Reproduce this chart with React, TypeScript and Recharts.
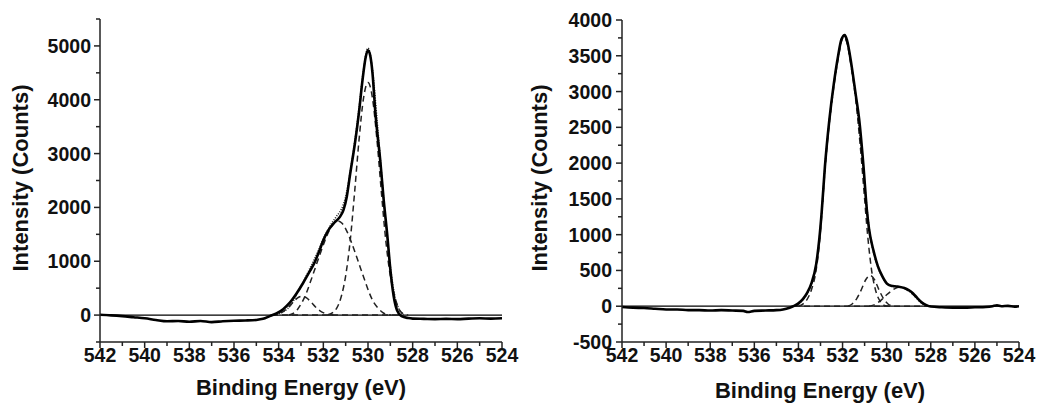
import React from 'react';
import { LineChart, Line, XAxis, YAxis, ReferenceLine } from 'recharts';

type Pt = [number, number];

// binding energy ticks (labels on even values only)
const energyTicks = [542, 541, 540, 539, 538, 537, 536, 535, 534, 533, 532, 531, 530, 529, 528, 527, 526, 525, 524];
const leftIntensityTicks = [-500, 0, 500, 1000, 1500, 2000, 2500, 3000, 3500, 4000, 4500, 5000, 5500];
const rightIntensityTicks = [-500, -250, 0, 250, 500, 750, 1000, 1250, 1500, 1750, 2000, 2250, 2500, 2750, 3000, 3250, 3500, 3750, 4000];

// ---- left panel ----
const leftEnvelope: Pt[] = [
  [542, 5], [541.5, -5], [541, -20], [540.5, -40], [540, -60], [539.5, -90], [539, -115], [538.5, -110],
  [538, -125], [537.5, -110], [537, -130], [536.5, -115], [536, -105], [535.5, -100], [535, -90], [534.7, -70],
  [534.4, -20], [534.1, 30], [533.8, 110], [533.5, 230], [533.2, 400], [532.9, 600], [532.6, 820], [532.4, 970],
  [532.2, 1170], [532.0, 1390], [531.8, 1560], [531.5, 1720], [531.25, 1830], [531.1, 1950], [530.95, 2200],
  [530.8, 2620], [530.6, 3150], [530.4, 3780], [530.25, 4350], [530.1, 4800], [530.0, 4920], [529.9, 4820],
  [529.8, 4500], [529.67, 3760], [529.44, 2820], [529.3, 2150], [529.14, 1500], [529.0, 850], [528.85, 350],
  [528.7, 90], [528.5, -20], [528.2, -55], [528, -65], [527.5, -70], [527, -75], [526.5, -70], [526, -75],
  [525.5, -65], [525, -60], [524.5, -65], [524, -60],
];
const leftFit: Pt[] = [
  [534.2, 0], [534.0, 25], [533.8, 60], [533.6, 120], [533.4, 220], [533.2, 380], [533.0, 540], [532.8, 700],
  [532.6, 870], [532.4, 1040], [532.2, 1220], [532.0, 1420], [531.8, 1580], [531.6, 1720], [531.4, 1840],
  [531.2, 1960], [531.0, 2200], [530.8, 2650], [530.6, 3200], [530.4, 3850], [530.2, 4550], [530.0, 4960],
  [529.8, 4550], [529.6, 3650], [529.4, 2650], [529.2, 1700], [529.0, 900], [528.8, 350], [528.6, 100], [528.4, 10],
];
const leftPeakA: Pt[] = [
  [531.8, 0], [531.6, 40], [531.4, 130], [531.2, 340], [531.0, 730], [530.8, 1370], [530.6, 2280], [530.4, 3260],
  [530.2, 4030], [530.0, 4320], [529.8, 4030], [529.6, 3260], [529.4, 2280], [529.2, 1370], [529.0, 730],
  [528.8, 340], [528.6, 100], [528.4, 20], [528.2, 0],
];
const leftPeakB: Pt[] = [
  [533.55, 0], [533.35, 30], [533.15, 110], [532.95, 240], [532.75, 420], [532.55, 650], [532.35, 890],
  [532.15, 1130], [531.95, 1360], [531.75, 1560], [531.55, 1700], [531.35, 1750], [531.15, 1700], [530.95, 1560],
  [530.75, 1360], [530.55, 1130], [530.35, 890], [530.15, 650], [529.95, 420], [529.75, 240], [529.55, 130],
  [529.35, 50], [529.15, 10], [528.95, 0],
];
const leftPeakC: Pt[] = [
  [534.35, 0], [534.15, 10], [533.95, 35], [533.75, 80], [533.55, 150], [533.35, 240], [533.15, 320],
  [532.95, 350], [532.75, 320], [532.55, 240], [532.35, 150], [532.15, 80], [531.95, 35], [531.75, 10], [531.55, 0],
];
const leftBaseline: Pt[] = [[534.3, 0], [528.5, 0]];

// ---- right panel ----
const rightEnvelope: Pt[] = [
  [542, -10], [541.5, -20], [541, -25], [540.5, -35], [540, -45], [539.5, -45], [539, -55], [538.5, -55],
  [538, -60], [537.5, -55], [537, -60], [536.5, -65], [536.3, -80], [536, -65], [535.5, -60], [535, -55],
  [534.7, -45], [534.4, -20], [534.2, 5], [534.0, 40], [533.8, 100], [533.6, 190], [533.4, 330], [533.2, 580],
  [533.05, 950], [532.95, 1300], [532.8, 1950], [532.6, 2600], [532.4, 3100], [532.2, 3500], [532.05, 3730],
  [531.9, 3790], [531.8, 3720], [531.6, 3380], [531.4, 2950], [531.25, 2620], [531.05, 1950], [530.9, 1350],
  [530.8, 1080], [530.6, 780], [530.4, 560], [530.2, 420], [530.0, 320], [529.8, 285], [529.5, 275],
  [529.2, 255], [529.0, 225], [528.8, 180], [528.6, 110], [528.4, 50], [528.2, 15], [528.0, -5], [527.5, -15],
  [527, -20], [526.5, -20], [526, -15], [525.5, -10], [525.2, 0], [525, 12], [524.8, 0], [524.5, 5],
  [524.2, -5], [524, 0],
];
const rightFit: Pt[] = [
  [534.2, 0], [534.0, 30], [533.8, 90], [533.6, 180], [533.4, 320], [533.2, 570], [533.05, 940], [532.95, 1290],
  [532.8, 1940], [532.6, 2590], [532.4, 3090], [532.2, 3490], [532.05, 3720], [531.95, 3770], [531.8, 3700],
  [531.6, 3360], [531.4, 2930], [531.2, 2350], [531.0, 1700], [530.8, 1100], [530.6, 760], [530.4, 550],
  [530.2, 410], [530.0, 320], [529.8, 280], [529.5, 270], [529.2, 250], [529.0, 215], [528.8, 170],
  [528.6, 100], [528.4, 40], [528.2, 10], [528.0, 0],
];
const rightPeakA: Pt[] = [
  [534.0, 0], [533.8, 30], [533.6, 100], [533.4, 240], [533.2, 500], [533.05, 880], [532.95, 1250],
  [532.8, 1900], [532.6, 2560], [532.4, 3060], [532.2, 3460], [532.05, 3700], [531.95, 3760], [531.8, 3680],
  [531.6, 3330], [531.4, 2880], [531.2, 2250], [531.0, 1500], [530.9, 1120], [530.8, 800], [530.7, 540],
  [530.5, 220], [530.3, 70], [530.1, 10], [529.9, 0],
];
const rightPeakB: Pt[] = [
  [531.75, 0], [531.55, 35], [531.35, 110], [531.15, 230], [530.95, 370], [530.75, 430], [530.55, 370],
  [530.35, 230], [530.15, 110], [529.95, 35], [529.75, 0],
];
const rightPeakC: Pt[] = [
  [530.8, 0], [530.6, 15], [530.4, 50], [530.2, 100], [530.0, 160], [529.8, 210], [529.6, 250], [529.4, 265],
  [529.2, 250], [529.0, 210], [528.8, 160], [528.6, 100], [528.4, 50], [528.2, 15], [528.0, 0],
];
const rightBaseline: Pt[] = [[534.2, 0], [528.0, 0]];

const FONT = '"Liberation Sans", Arial, Helvetica, sans-serif';
const AXIS = '#222';
const INK = '#111';
const TICK_FONT = 19.5;

const rows = (pts: Pt[]) => pts.map(([e, i]) => ({ e, i }));

const XTick = (props: any) => {
  const { x, y, payload } = props;
  const major = payload.value % 2 === 0;
  return (
    <g>
      <line x1={x} x2={x} y1={y} y2={y + (major ? 6 : 4)} stroke={AXIS} strokeWidth={1.5} />
      {major && (
        <text x={x} y={y + 20} textAnchor="middle" fontSize={TICK_FONT} fontWeight="bold" fill={INK} fontFamily={FONT}>
          {payload.value}
        </text>
      )}
    </g>
  );
};

const makeYTick = (step: number, gap: number) => (props: any) => {
  const { x, y, payload } = props;
  const major = payload.value % step === 0;
  return (
    <g>
      <line x1={x} x2={x - (major ? 6 : 4)} y1={y} y2={y} stroke={AXIS} strokeWidth={1.5} />
      {major && (
        <text x={x - gap} y={y + 7} textAnchor="end" fontSize={TICK_FONT} fontWeight="bold" fill={INK} fontFamily={FONT}>
          {payload.value}
        </text>
      )}
    </g>
  );
};

const Panel = ({ left, width, top, right, yWidth, domain, yTicks, yStep, yGap, envelope, fit, peaks, baseline }: any) => (
  <div style={{ position: 'absolute', left, top: 0 }}>
    <LineChart width={width} height={416} margin={{ top, right, bottom: 0, left: 0 }}>
      <XAxis
        dataKey="e"
        type="number"
        domain={[524, 542]}
        reversed
        ticks={energyTicks}
        interval={0}
        height={74}
        tickSize={0}
        tickMargin={0}
        tickLine={false}
        tick={XTick}
        axisLine={{ stroke: AXIS, strokeWidth: 1.5 }}
        allowDataOverflow
      />
      <YAxis
        dataKey="i"
        type="number"
        domain={domain}
        ticks={yTicks}
        interval={0}
        width={yWidth}
        tickSize={0}
        tickMargin={0}
        tickLine={false}
        tick={makeYTick(yStep, yGap)}
        axisLine={{ stroke: AXIS, strokeWidth: 1.5 }}
        allowDataOverflow
      />
      <ReferenceLine y={0} stroke="#000" strokeWidth={1.2} />
      <Line data={rows(baseline)} dataKey="i" type="linear" stroke="#222" strokeWidth={1.5} strokeDasharray="6 4" dot={false} isAnimationActive={false} />
      {peaks.map((p: Pt[], k: number) => (
        <Line key={k} data={rows(p)} dataKey="i" type="monotone" stroke="#222" strokeWidth={1.5} strokeDasharray="6 4" dot={false} isAnimationActive={false} />
      ))}
      <Line data={rows(fit)} dataKey="i" type="monotone" stroke="#222" strokeWidth={1.6} strokeDasharray="1 1.5" dot={false} isAnimationActive={false} />
      <Line data={rows(envelope)} dataKey="i" type="monotone" stroke="#000" strokeWidth={2.6} dot={false} isAnimationActive={false} />
    </LineChart>
  </div>
);

export default function App() {
  const title = { fontFamily: FONT, fontWeight: 'bold', fontSize: 22, fill: INK } as const;
  return (
    <div style={{ position: 'absolute', left: 0, top: 0, width: 1050, height: 416, background: '#fff', overflow: 'hidden' }}>
      <Panel
        left={0} width={520} top={19} right={18} yWidth={100}
        domain={[-500, 5500]} yTicks={leftIntensityTicks} yStep={1000} yGap={9}
        envelope={leftEnvelope} fit={leftFit} peaks={[leftPeakA, leftPeakB, leftPeakC]} baseline={leftBaseline}
      />
      <Panel
        left={520} width={530} top={20} right={31} yWidth={102}
        domain={[-500, 4000]} yTicks={rightIntensityTicks} yStep={500} yGap={10}
        envelope={rightEnvelope} fit={rightFit} peaks={[rightPeakA, rightPeakB, rightPeakC]} baseline={rightBaseline}
      />
      <svg width={1050} height={416} style={{ position: 'absolute', left: 0, top: 0, pointerEvents: 'none' }}>
        <text x={301} y={395} textAnchor="middle" {...title}>Binding Energy (eV)</text>
        <text x={820} y={398} textAnchor="middle" {...title}>Binding Energy (eV)</text>
        <text transform="translate(28,178) rotate(-90)" textAnchor="middle" {...title}>Intensity (Counts)</text>
        <text transform="translate(547,178) rotate(-90)" textAnchor="middle" {...title}>Intensity (Counts)</text>
      </svg>
    </div>
  );
}
